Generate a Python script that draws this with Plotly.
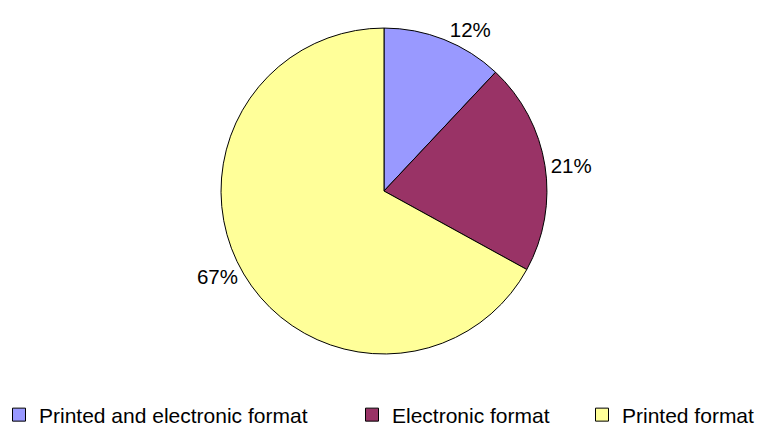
import plotly.graph_objects as go

labels = ["Printed and electronic format", "Electronic format", "Printed format"]
values = [12, 21, 67]
colors = ["#9999FF", "#993366", "#FFFF99"]

FONT = "Liberation Sans, Arial"

fig = go.Figure()
fig.add_trace(go.Pie(
    labels=labels,
    values=values,
    sort=False,
    direction="clockwise",
    rotation=0,
    marker=dict(colors=colors, line=dict(color="black", width=1)),
    texttemplate="%{percent:.0%}",
    textposition="outside",
    outsidetextfont=dict(color="black", size=20.5, family=FONT),
    domain=dict(x=[0.2781, 0.7036], y=[0.2027, 0.9539]),
    hoverinfo="label+percent",
    showlegend=False,
))

legend_names = ["legend", "legend2", "legend3"]
legend_pos = [(-9 / 766, "left"), (344 / 766, "left"), (1.0, "right")]
entry_widths = [None, None, 147]
for lab, col, lg in zip(labels, colors, legend_names):
    fig.add_trace(go.Scatter(
        x=[None], y=[None], mode="markers", name=lab,
        marker=dict(symbol="square", size=13, color=col, line=dict(color="black", width=1)),
        legend=lg, showlegend=True, hoverinfo="skip",
    ))

layout_legends = {}
for lg, (px, anc), ew in zip(legend_names, legend_pos, entry_widths):
    d = dict(
        orientation="h", x=px, xanchor=anc, y=0.015, yanchor="bottom",
        font=dict(size=21, family=FONT, color="black"), itemwidth=30,
        bgcolor="rgba(0,0,0,0)",
    )
    if ew:
        d["entrywidth"] = ew
        d["entrywidthmode"] = "pixels"
    layout_legends[lg] = d

fig.update_layout(
    width=766, height=434,
    margin=dict(l=0, r=0, t=0, b=0, autoexpand=False),
    paper_bgcolor="white",
    plot_bgcolor="white",
    font=dict(family=FONT, size=20, color="black"),
    xaxis=dict(visible=False),
    yaxis=dict(visible=False),
    **layout_legends,
)

fig.write_html("out.html")
